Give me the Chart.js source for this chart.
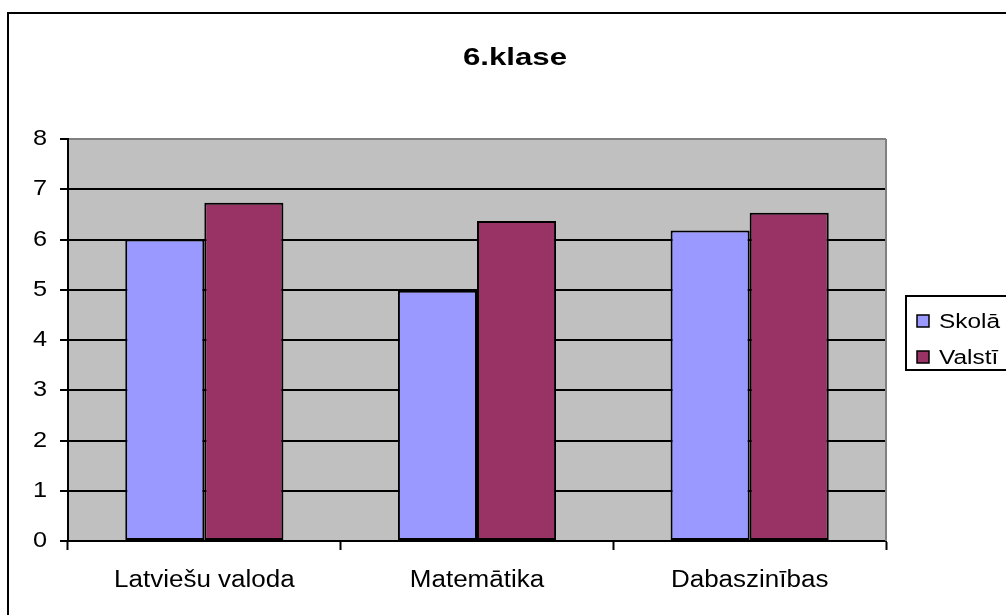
<!DOCTYPE html>
<html>
<head>
<meta charset="utf-8">
<script src="https://cdn.jsdelivr.net/npm/chart.js@4"></script>
<style>
  html, body { margin: 0; padding: 0; background: #fff; }
  #wrap { width: 1006px; height: 615px; }
</style>
</head>
<body>
<div id="wrap"><canvas id="chart" width="1006" height="615"></canvas></div>
<script>
const categories = ["Latviešu valoda", "Matemātika", "Dabaszinības"];
const seriesNames = ["Skolā", "Valstī"];
const skolaValues = [6.0, 4.98, 6.18];
const valstiValues = [6.73, 6.37, 6.53];
const yTicks = [0, 1, 2, 3, 4, 5, 6, 7, 8];
const chartTitle = "6.klase";

const colors = ["#9999FF", "#993366"];
const FONT = "Arial, 'Liberation Sans', sans-serif";

// the original's lettering is wider than Arial: stretch text runs sideways,
// by how much depends on the font size in use
const stretchBySize = { 22: 1.15, 23: 1.13 };
const canvas = document.getElementById("chart");
const ctx2d = canvas.getContext("2d");
const rawFillText = ctx2d.fillText.bind(ctx2d);
ctx2d.fillText = function (text, x, y, maxWidth) {
    const m = /(\d+(?:\.\d+)?)px/.exec(this.font);
    const s = (m && stretchBySize[Math.round(+m[1])]) || 1;
    this.save();
    this.translate(x, y);
    this.scale(s, 1);
    if (maxWidth !== undefined) rawFillText(text, 0, 0, maxWidth / s);
    else rawFillText(text, 0, 0);
    this.restore();
};

function stretchedText(ctx, text, x, y, s) {
    ctx.save();
    ctx.translate(x, y);
    ctx.scale(s, 1);
    rawFillText(text, 0, 0);
    ctx.restore();
}

// white page, outer frame, grey plot background, title
const backdrop = {
    id: "backdrop",
    beforeDraw(chart) {
        const { ctx, chartArea: a } = chart;
        ctx.save();
        ctx.fillStyle = "#fff";
        ctx.fillRect(0, 0, chart.width, chart.height);
        ctx.strokeStyle = "#000";
        ctx.lineWidth = 2;
        ctx.strokeRect(8, 13, chart.width + 20, chart.height + 20);
        ctx.fillStyle = "#C0C0C0";
        ctx.fillRect(a.left, a.top, a.right - a.left, a.bottom - a.top);

        ctx.fillStyle = "#000";
        ctx.font = `bold 24px ${FONT}`;
        ctx.textAlign = "center";
        ctx.textBaseline = "alphabetic";
        stretchedText(ctx, chartTitle, 515, 65, 1.3);
        ctx.restore();
    },
    beforeDatasetsDraw(chart) {
        const { ctx, chartArea: a } = chart;
        ctx.save();
        ctx.strokeStyle = "#808080";
        ctx.lineWidth = 2;
        ctx.beginPath();
        ctx.moveTo(a.right, a.top);
        ctx.lineTo(a.right, a.bottom);
        ctx.stroke();
        ctx.restore();
    }
};

// legend box on the right, cut off by the page edge like the original
const sideLegend = {
    id: "sideLegend",
    afterDraw(chart) {
        const ctx = chart.ctx;
        ctx.save();
        ctx.strokeStyle = "#000";
        ctx.lineWidth = 2;
        ctx.strokeRect(906, 296, 200, 74);
        ctx.font = `20px ${FONT}`;
        ctx.textBaseline = "alphabetic";
        ctx.textAlign = "left";
        chart.data.datasets.forEach((ds, i) => {
            const y = 321 + i * 36;
            ctx.fillStyle = ds.backgroundColor;
            ctx.fillRect(917, y - 6, 12, 12);
            ctx.lineWidth = 1.5;
            ctx.strokeStyle = "#000";
            ctx.strokeRect(917, y - 6, 12, 12);
            ctx.fillStyle = "#000";
            stretchedText(ctx, ds.label, 939, y + 7, 1.22);
        });
        ctx.restore();
    }
};

new Chart(canvas, {
    type: "bar",
    data: {
        labels: categories,
        datasets: [
            { label: seriesNames[0], data: skolaValues, backgroundColor: colors[0] },
            { label: seriesNames[1], data: valstiValues, backgroundColor: colors[1] }
        ]
    },
    options: {
        responsive: false,
        animation: false,
        layout: { padding: { left: 0, right: 120, top: 139, bottom: 0 } },
        datasets: {
            bar: {
                borderColor: "#000",
                borderWidth: 2,
                borderSkipped: false,
                categoryPercentage: 0.58,
                barPercentage: 1
            }
        },
        plugins: {
            legend: { display: false },
            tooltip: { enabled: false },
            title: { display: false }
        },
        scales: {
            x: {
                offset: true,
                afterFit(scale) { scale.height = 74; },
                grid: {
                    offset: true,
                    drawOnChartArea: false,
                    drawTicks: true,
                    tickLength: 9,
                    tickWidth: 2,
                    tickColor: "#000"
                },
                border: { display: true, color: "#000", width: 2 },
                ticks: {
                    color: "#000",
                    padding: 17,
                    maxRotation: 0,
                    font: { family: FONT, size: 23 }
                }
            },
            y: {
                min: 0,
                max: 8,
                afterFit(scale) { scale.width = 68; },
                afterBuildTicks(scale) { scale.ticks = yTicks.map(v => ({ value: v })); },
                grid: {
                    color: ctx => ctx.tick && ctx.tick.value === 8 ? "#808080" : "#000",
                    lineWidth: 2,
                    tickLength: 8,
                    tickWidth: 2,
                    tickColor: "#000"
                },
                border: { display: true, color: "#000", width: 2 },
                ticks: {
                    color: "#000",
                    padding: 13,
                    font: { family: FONT, size: 22 }
                }
            }
        }
    },
    plugins: [backdrop, sideLegend]
});
</script>
</body>
</html>
